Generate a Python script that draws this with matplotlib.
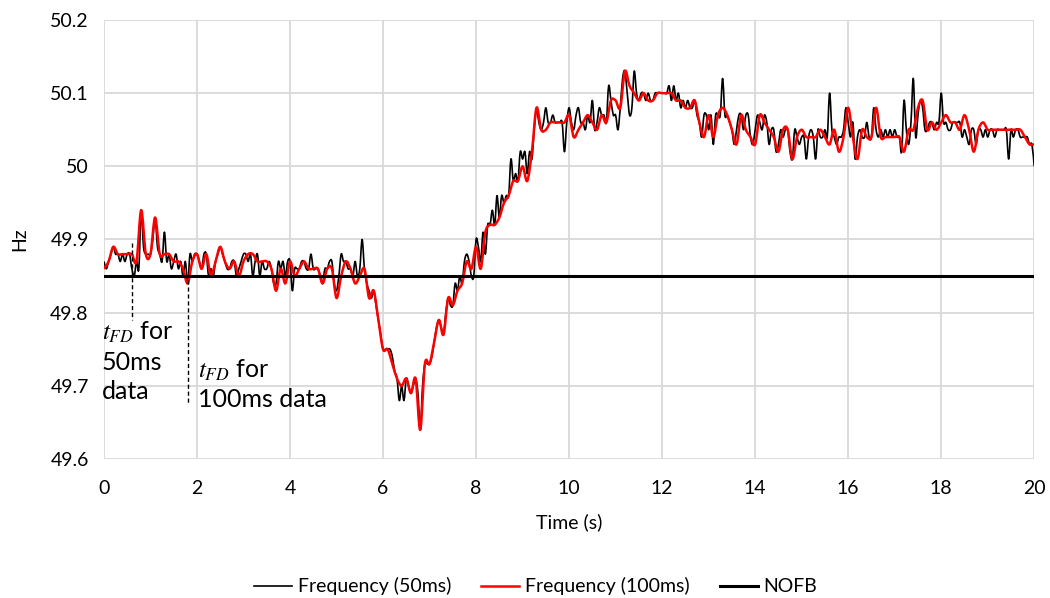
import matplotlib
matplotlib.use("Agg")
import matplotlib.pyplot as plt
from matplotlib.path import Path
from matplotlib.patches import PathPatch
from matplotlib.lines import Line2D
import numpy as np

plt.rcParams["font.family"] = ["Lato", "DejaVu Sans"]
plt.rcParams["mathtext.fontset"] = "stix"

# Frequency sampled every 50 ms (0 .. 20 s, 401 points), one row per second
freq_50ms = [
    49.87, 49.86, 49.87, 49.88, 49.89, 49.88, 49.88, 49.87, 49.88, 49.87, 49.88, 49.88, 49.86, 49.85, 49.87, 49.86, 49.94, 49.89, 49.88, 49.88,
    49.88, 49.90, 49.93, 49.89, 49.88, 49.87, 49.91, 49.87, 49.88, 49.86, 49.87, 49.88, 49.86, 49.87, 49.85, 49.87, 49.84, 49.88, 49.87, 49.88,
    49.88, 49.87, 49.86, 49.88, 49.88, 49.85, 49.86, 49.85, 49.87, 49.88, 49.89, 49.88, 49.87, 49.86, 49.86, 49.87, 49.87, 49.85, 49.86, 49.87,
    49.88, 49.88, 49.87, 49.88, 49.85, 49.87, 49.88, 49.85, 49.87, 49.86, 49.86, 49.87, 49.86, 49.84, 49.84, 49.87, 49.86, 49.87, 49.85, 49.87,
    49.87, 49.83, 49.86, 49.86, 49.86, 49.87, 49.87, 49.86, 49.86, 49.88, 49.86, 49.86, 49.86, 49.85, 49.84, 49.86, 49.86, 49.87, 49.87, 49.84,
    49.83, 49.85, 49.88, 49.87, 49.87, 49.86, 49.86, 49.85, 49.87, 49.85, 49.86, 49.90, 49.86, 49.84, 49.83, 49.82, 49.83, 49.81, 49.79, 49.77,
    49.75, 49.75, 49.75, 49.75, 49.74, 49.72, 49.71, 49.68, 49.70, 49.68, 49.71, 49.70, 49.69, 49.70, 49.71, 49.69, 49.64, 49.70, 49.73, 49.73,
    49.73, 49.74, 49.76, 49.78, 49.79, 49.78, 49.77, 49.80, 49.82, 49.81, 49.81, 49.84, 49.83, 49.85, 49.84, 49.87, 49.88, 49.87, 49.85, 49.85,
    49.90, 49.89, 49.87, 49.91, 49.88, 49.92, 49.92, 49.94, 49.92, 49.96, 49.93, 49.96, 49.95, 49.96, 49.96, 50.01, 49.98, 49.99, 49.98, 50.02,
    50.01, 50.02, 49.99, 50.02, 50.01, 50.05, 50.08, 50.06, 50.05, 50.06, 50.08, 50.06, 50.06, 50.07, 50.06, 50.06, 50.06, 50.06, 50.02, 50.06,
    50.08, 50.06, 50.05, 50.07, 50.08, 50.06, 50.06, 50.05, 50.07, 50.06, 50.09, 50.05, 50.06, 50.08, 50.07, 50.07, 50.06, 50.11, 50.09, 50.07,
    50.07, 50.05, 50.08, 50.12, 50.13, 50.10, 50.07, 50.08, 50.13, 50.10, 50.09, 50.10, 50.10, 50.09, 50.10, 50.09, 50.09, 50.10, 50.10, 50.10,
    50.10, 50.10, 50.10, 50.11, 50.09, 50.11, 50.09, 50.10, 50.08, 50.09, 50.08, 50.09, 50.08, 50.08, 50.09, 50.07, 50.06, 50.04, 50.07, 50.07,
    50.05, 50.07, 50.03, 50.07, 50.07, 50.07, 50.12, 50.07, 50.07, 50.06, 50.05, 50.03, 50.05, 50.07, 50.07, 50.05, 50.07, 50.07, 50.04, 50.03,
    50.05, 50.07, 50.06, 50.05, 50.07, 50.06, 50.03, 50.05, 50.05, 50.02, 50.03, 50.05, 50.04, 50.05, 50.05, 50.02, 50.01, 50.05, 50.04, 50.03,
    50.04, 50.04, 50.01, 50.04, 50.05, 50.04, 50.01, 50.05, 50.04, 50.04, 50.05, 50.04, 50.10, 50.05, 50.04, 50.03, 50.04, 50.04, 50.05, 50.08,
    50.06, 50.04, 50.06, 50.01, 50.04, 50.05, 50.04, 50.04, 50.06, 50.04, 50.04, 50.08, 50.05, 50.04, 50.05, 50.04, 50.05, 50.04, 50.05, 50.04,
    50.05, 50.04, 50.04, 50.02, 50.09, 50.05, 50.03, 50.06, 50.12, 50.04, 50.07, 50.09, 50.08, 50.05, 50.05, 50.06, 50.06, 50.05, 50.06, 50.06,
    50.10, 50.06, 50.06, 50.05, 50.05, 50.06, 50.06, 50.06, 50.06, 50.04, 50.05, 50.04, 50.03, 50.05, 50.05, 50.03, 50.05, 50.05, 50.04, 50.05,
    50.04, 50.05, 50.05, 50.04, 50.05, 50.05, 50.05, 50.05, 50.05, 50.01, 50.05, 50.04, 50.05, 50.05, 50.04, 50.04, 50.04, 50.04, 50.03, 50.03,
    50.00,
]

# Frequency sampled every 100 ms (0 .. 20 s, 201 points), one row per 2 s
freq_100ms = [
    49.86, 49.87, 49.89, 49.88, 49.88, 49.88, 49.88, 49.87, 49.94, 49.88, 49.88, 49.93, 49.88, 49.88, 49.88, 49.87, 49.87, 49.86, 49.84, 49.87,
    49.88, 49.86, 49.88, 49.85, 49.87, 49.89, 49.87, 49.86, 49.87, 49.85, 49.87, 49.88, 49.88, 49.87, 49.87, 49.87, 49.86, 49.83, 49.86, 49.84,
    49.87, 49.85, 49.86, 49.87, 49.86, 49.86, 49.86, 49.84, 49.86, 49.86, 49.82, 49.85, 49.87, 49.86, 49.84, 49.85, 49.86, 49.82, 49.83, 49.79,
    49.75, 49.75, 49.73, 49.71, 49.70, 49.71, 49.69, 49.71, 49.64, 49.73, 49.73, 49.76, 49.79, 49.77, 49.82, 49.81, 49.83, 49.84, 49.87, 49.86,
    49.89, 49.86, 49.91, 49.92, 49.92, 49.93, 49.95, 49.96, 49.98, 49.98, 50.00, 49.98, 50.02, 50.08, 50.05, 50.05, 50.06, 50.06, 50.06, 50.06,
    50.07, 50.04, 50.05, 50.06, 50.07, 50.06, 50.05, 50.07, 50.06, 50.09, 50.09, 50.08, 50.13, 50.11, 50.10, 50.09, 50.10, 50.09, 50.09, 50.10,
    50.10, 50.10, 50.10, 50.09, 50.09, 50.08, 50.08, 50.09, 50.06, 50.04, 50.07, 50.04, 50.07, 50.08, 50.07, 50.05, 50.03, 50.07, 50.05, 50.04,
    50.03, 50.07, 50.06, 50.05, 50.04, 50.02, 50.05, 50.05, 50.01, 50.04, 50.05, 50.04, 50.04, 50.04, 50.05, 50.04, 50.03, 50.05, 50.02, 50.04,
    50.08, 50.04, 50.01, 50.05, 50.04, 50.04, 50.08, 50.04, 50.04, 50.04, 50.04, 50.04, 50.02, 50.05, 50.05, 50.08, 50.09, 50.05, 50.06, 50.05,
    50.06, 50.07, 50.06, 50.06, 50.05, 50.07, 50.05, 50.02, 50.05, 50.06, 50.05, 50.05, 50.05, 50.05, 50.05, 50.05, 50.05, 50.05, 50.04, 50.03,
    50.03,
]

nofb = 49.85
t_fd_50ms = 0.6
t_fd_100ms = 1.8

t50 = np.arange(len(freq_50ms)) * 0.05
t100 = np.arange(len(freq_100ms)) * 0.1


def smooth_path(x, y):
    # Excel-style smoothed line: Catmull-Rom segments drawn as cubic Beziers
    p = np.column_stack([x, y])
    ext = np.vstack([p[0], p, p[-1]])
    verts = [p[0]]
    codes = [Path.MOVETO]
    for i in range(1, len(ext) - 2):
        c1 = ext[i] + (ext[i + 1] - ext[i - 1]) / 6
        c2 = ext[i + 1] - (ext[i + 2] - ext[i]) / 6
        verts += [c1, c2, ext[i + 1]]
        codes += [Path.CURVE4] * 3
    return Path(verts, codes)


fig = plt.figure(figsize=(10.5, 5.98), dpi=100)
ax = fig.add_axes([0.099, 0.2324, 0.886, 0.7342])

ax.add_patch(PathPatch(smooth_path(t50, freq_50ms), fill=False, edgecolor="black",
                       lw=1.2, joinstyle="round", zorder=3))
ax.add_patch(PathPatch(smooth_path(t100, freq_100ms), fill=False, edgecolor="#ff0000",
                       lw=1.8, joinstyle="round", zorder=4))
ax.plot([0, 20], [nofb, nofb], color="black", lw=2.2, zorder=5)

# detection-time markers
ax.plot([t_fd_50ms, t_fd_50ms], [49.895, 49.79], color="black", lw=1, ls=(0, (3, 2)), zorder=6)
ax.plot([t_fd_100ms, t_fd_100ms], [49.845, 49.674], color="black", lw=1, ls=(0, (3, 2)), zorder=6)
ax.text(-0.05, 49.79, "$t_{FD}$ for\n50ms\ndata", fontsize=18, va="top", ha="left",
        linespacing=1.3)
ax.text(2.03, 49.739, "$t_{FD}$ for\n100ms data", fontsize=18, va="top", ha="left",
        linespacing=1.3)

ax.set_xlim(0, 20)
ax.set_ylim(49.6, 50.2)
ax.set_xticks(np.arange(0, 21, 2))
yt = np.round(np.arange(49.6, 50.21, 0.1), 1)
ax.set_yticks(yt)
ax.set_yticklabels([f"{v:g}" for v in yt])
ax.tick_params(length=0, labelsize=14)
ax.tick_params(axis="x", pad=15)
ax.tick_params(axis="y", pad=11)
ax.grid(True, color="#d9d9d9", lw=1.3)
ax.set_axisbelow(True)
for s in ax.spines.values():
    s.set_visible(False)

ax.set_xlabel("Time (s)", fontsize=14, labelpad=12)
ax.set_ylabel("Hz", fontsize=14, labelpad=16)

handles = [
    Line2D([], [], color="black", lw=1.2),
    Line2D([], [], color="#ff0000", lw=1.8),
    Line2D([], [], color="black", lw=2.2),
]
fig.legend(handles, ["Frequency (50ms)", "Frequency (100ms)", "NOFB"],
           loc="lower center", ncol=3, frameon=False, fontsize=14,
           bbox_to_anchor=(0.51, -0.025), handlelength=1.95, handletextpad=0.3,
           columnspacing=1.55)

plt.savefig("out.png", dpi=100)
